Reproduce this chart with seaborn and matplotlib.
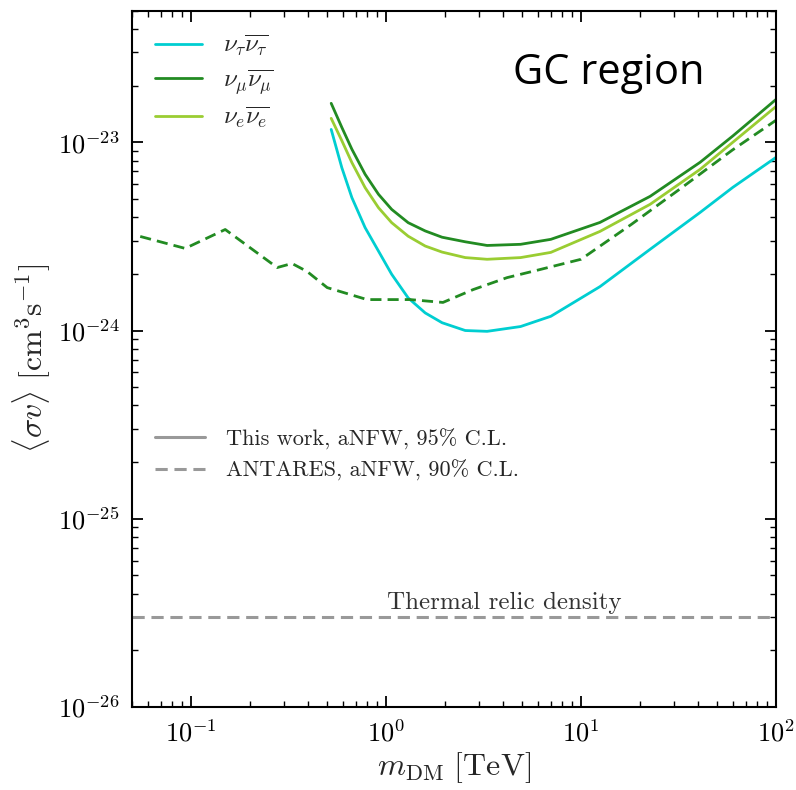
import numpy as np
import pandas as pd
import matplotlib
matplotlib.use("Agg")
import matplotlib.pyplot as plt
from matplotlib.lines import Line2D
from matplotlib.ticker import FuncFormatter, LogLocator
import seaborn as sns

# Dark-matter mass grid (TeV) for the limits of this work
mass = [0.524, 0.594, 0.669, 0.782, 0.916, 1.07, 1.30, 1.59, 1.94, 2.55,
        3.3, 4.9, 7.0, 12.5, 22.6, 40.8, 60.0, 100.0]

# 95% C.L. upper limits on <sigma v> (cm^3 s^-1)
sv_tau = [1.17e-23, 7.33e-24, 5.08e-24, 3.52e-24, 2.64e-24, 1.99e-24, 1.49e-24, 1.24e-24,
          1.10e-24, 1.00e-24, 9.9e-25, 1.05e-24, 1.19e-24, 1.71e-24, 2.70e-24, 4.24e-24,
          5.76e-24, 8.32e-24]
sv_mu = [1.61e-23, 1.20e-23, 9.18e-24, 6.76e-24, 5.29e-24, 4.40e-24, 3.74e-24, 3.38e-24,
         3.13e-24, 2.96e-24, 2.83e-24, 2.87e-24, 3.05e-24, 3.75e-24, 5.16e-24, 7.83e-24,
         1.08e-23, 1.69e-23]
sv_e = [1.34e-23, 1.02e-23, 7.80e-24, 5.74e-24, 4.49e-24, 3.74e-24, 3.17e-24, 2.81e-24,
        2.61e-24, 2.44e-24, 2.39e-24, 2.44e-24, 2.60e-24, 3.36e-24, 4.68e-24, 7.18e-24,
        1.00e-23, 1.55e-23]

# ANTARES 90% C.L. limit (nu_mu channel)
antares_mass = [0.055, 0.0935, 0.150, 0.277, 0.330, 0.394, 0.50, 0.80, 1.33, 1.96, 2.80,
                4.18, 5.96, 10.0, 18.1, 33.0, 59.5, 100.0]
antares_sv = [3.16e-24, 2.73e-24, 3.44e-24, 2.16e-24, 2.27e-24, 2.06e-24, 1.69e-24, 1.46e-24,
              1.46e-24, 1.41e-24, 1.65e-24, 1.91e-24, 2.09e-24, 2.39e-24, 3.66e-24, 5.76e-24,
              9.07e-24, 1.31e-23]

thermal_sv = 3e-26

channel_labels = [r"$\nu_\tau\overline{\nu_\tau}$", r"$\nu_\mu\overline{\nu_\mu}$", r"$\nu_e\overline{\nu_e}$"]
channel_colors = ["#00CED1", "#228B22", "#9ACD32"]
style_labels = ["This work, aNFW, 95% C.L.", "ANTARES, aNFW, 90% C.L."]

sns.set_style("ticks")
plt.rcParams["mathtext.fontset"] = "cm"
plt.rcParams["font.family"] = ["cmr10", "DejaVu Serif"]
plt.rcParams["axes.formatter.use_mathtext"] = True
plt.rcParams["axes.unicode_minus"] = False

fig = plt.figure(figsize=(7.96, 7.90), dpi=100)
ax = fig.add_axes([0.166, 0.105, 0.809, 0.8815])

lw = 2.0
dash = (0, (4, 2.2))
for sv, col in zip([sv_tau, sv_mu, sv_e], channel_colors):
    sns.lineplot(x=mass, y=sv, color=col, lw=lw, ax=ax, estimator=None, sort=False)

sns.lineplot(x=antares_mass, y=antares_sv, color="#228B22", lw=lw, ax=ax,
             estimator=None, sort=False, linestyle=dash)

ax.axhline(thermal_sv, color="#999999", lw=2.2, linestyle=dash)
ax.text(4.05, 3.12e-26, "Thermal relic density", ha="center", va="bottom",
        fontsize=18, color="#333333")

ax.set_xscale("log")
ax.set_yscale("log")
ax.set_xlim(0.05, 100)
ax.set_ylim(1e-26, 5e-23)

pow_fmt = FuncFormatter(lambda v, pos: r"$10^{%d}$" % int(round(np.log10(v))))
ax.xaxis.set_major_formatter(pow_fmt)
ax.yaxis.set_major_formatter(pow_fmt)
ax.xaxis.set_minor_locator(LogLocator(base=10, subs=np.arange(2, 10), numticks=20))
ax.yaxis.set_minor_locator(LogLocator(base=10, subs=np.arange(2, 10), numticks=20))

ax.set_xlabel(r"$m_\mathrm{DM}\ [\mathrm{TeV}]$", fontsize=23)
ax.set_ylabel(r"$\langle\sigma v\rangle\ [\mathrm{cm}^3\mathrm{s}^{-1}]$", fontsize=23)
ax.xaxis.set_label_coords(0.5, -0.062)
ax.yaxis.set_label_coords(-0.123, 0.5)

ax.tick_params(which="both", direction="in", top=True, right=True, colors="black")
ax.tick_params(which="major", length=8, width=1.3, labelsize=19, pad=9)
ax.tick_params(which="minor", length=4, width=1.0)
for sp in ax.spines.values():
    sp.set_linewidth(1.5)
    sp.set_color("black")

# Channel legend
ch_handles = [Line2D([0], [0], color=c, lw=lw) for c in channel_colors]
leg1 = ax.legend(ch_handles, channel_labels, loc="upper left", bbox_to_anchor=(0.0, 1.0),
                 frameon=False, fontsize=18, handlelength=1.9, handletextpad=0.85,
                 labelspacing=0.3)
ax.add_artist(leg1)

# Line-style legend
style_handles = [Line2D([0], [0], color="#999999", lw=2.2),
                 Line2D([0], [0], color="#999999", lw=2.2, linestyle=dash)]
ax.legend(style_handles, style_labels, loc="upper left", bbox_to_anchor=(0.0047, 0.429),
          frameon=False, fontsize=16, handlelength=2.25, handletextpad=0.95,
          labelspacing=0.45)

ax.text(0.74, 0.91, "GC region", transform=ax.transAxes, ha="center", va="center",
        fontsize=30, family=["Open Sans", "DejaVu Sans"], color="black")

fig.savefig("out.png", dpi=100)
